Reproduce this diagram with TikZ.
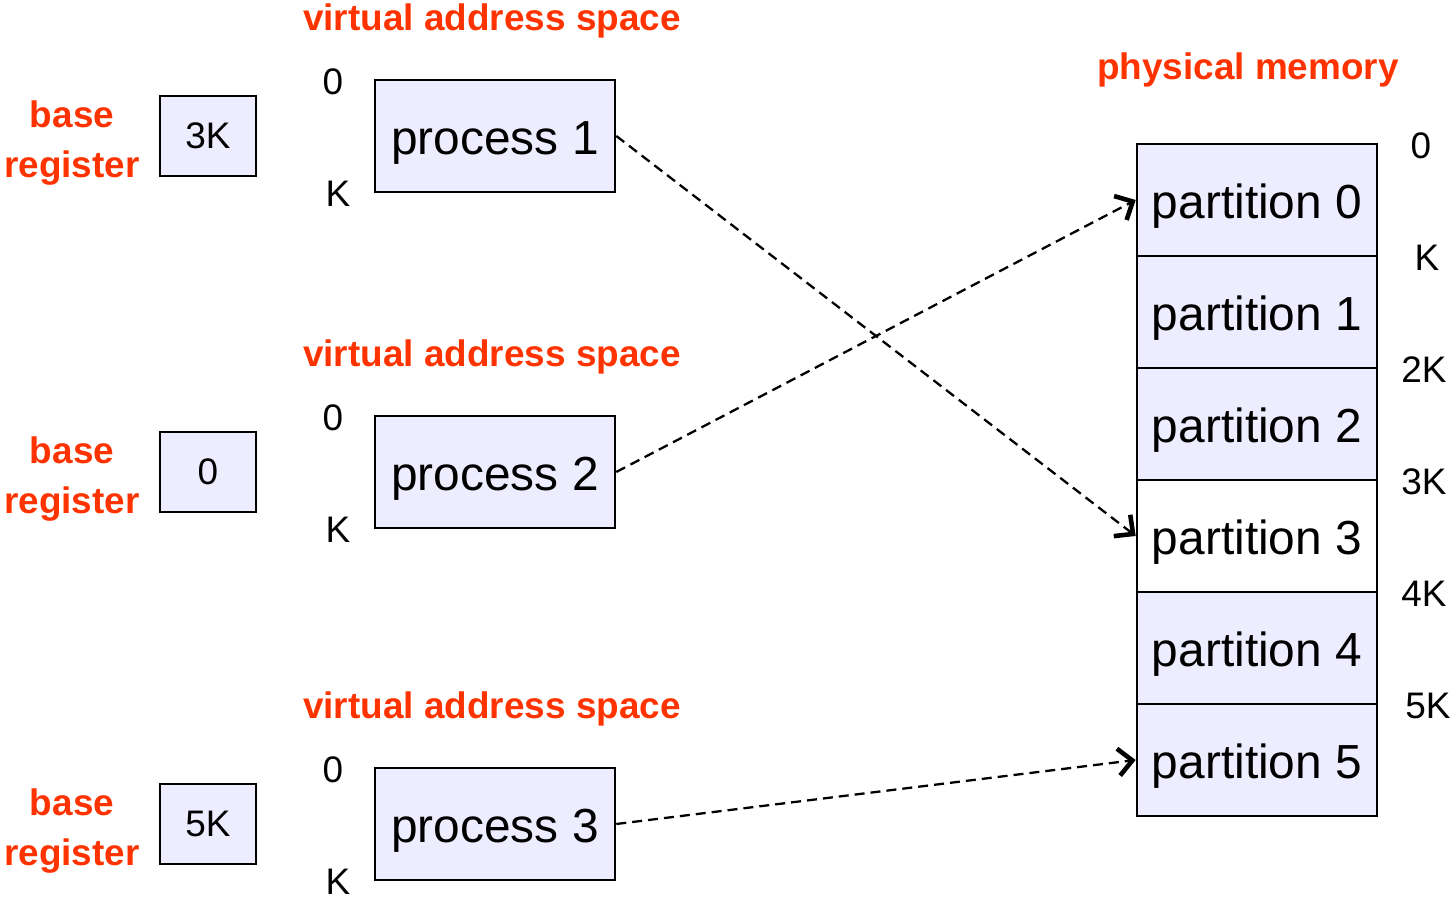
\documentclass[tikz,border=0pt]{standalone}
\usepackage{fontspec}
\setmainfont{Liberation Sans}
\usetikzlibrary{arrows.meta}
\definecolor{labelred}{RGB}{255,51,0}
\definecolor{boxfill}{RGB}{237,237,255}
\tikzset{>={Straight Barb[length=1.4mm,width=2.7mm,line width=1.3pt]}}

\begin{document}
\begin{tikzpicture}[x=0.01cm,y=-0.01cm,
  title/.style={text=labelred,font=\fontsize{10.5}{14.2}\selectfont\bfseries,align=center},
  regbox/.style={draw,fill=boxfill,line width=0.7pt,minimum width=0.96cm,minimum height=0.8cm,inner sep=0pt,font=\fontsize{10.5}{12}\selectfont},
  procbox/.style={draw,fill=boxfill,line width=0.7pt,minimum width=2.4cm,minimum height=1.12cm,inner sep=0pt,text height=1.03em,text depth=0pt,font=\fontsize{13.6}{15}\selectfont},
  addr/.style={font=\fontsize{10.5}{12}\selectfont,inner sep=0pt},
  mapping/.style={->,dash pattern=on 1mm off 0.6mm,line width=0.65pt}]
  \useasboundingbox (0,0) rectangle (1456,898);

  % virtual side
  \node[title] (vas1) at (492,21) {virtual address space};
  \node[title] (vas2) at (492,357) {virtual address space};
  \node[title] (vas3) at (492,709) {virtual address space};

  \node[title] (base1) at (72,143) {base\\register};
  \node[title] (base2) at (72,479) {base\\register};
  \node[title] (base3) at (72,831) {base\\register};

  \node[regbox] (reg1) at (208,136) {3K};
  \node[regbox] (reg2) at (208,472) {0};
  \node[regbox] (reg3) at (208,824) {5K};

  \node[procbox] (proc1) at (495,136) {process 1};
  \node[procbox] (proc2) at (495,472) {process 2};
  \node[procbox] (proc3) at (495,824) {process 3};

  \node[addr] (lo1) at (333,82) {0};
  \node[addr] (hi1) at (338,194) {K};
  \node[addr] (lo2) at (333,418) {0};
  \node[addr] (hi2) at (338,530) {K};
  \node[addr] (lo3) at (333,770) {0};
  \node[addr] (hi3) at (338,882) {K};

  % physical side
  \node[title] (phys) at (1248,70) {physical memory};

  \node[procbox] (part0) at (1257,200) {partition 0};
  \node[procbox] (part1) at (1257,312) {partition 1};
  \node[procbox] (part2) at (1257,424) {partition 2};
  \node[procbox,fill=white] (part3) at (1257,536) {partition 3};
  \node[procbox] (part4) at (1257,648) {partition 4};
  \node[procbox] (part5) at (1257,760) {partition 5};

  \node[addr] (m0) at (1421,146) {0};
  \node[addr] (m1) at (1427,258) {K};
  \node[addr] (m2) at (1424,370) {2K};
  \node[addr] (m3) at (1424,482) {3K};
  \node[addr] (m4) at (1424,594) {4K};
  \node[addr] (m5) at (1428,706) {5K};

  \draw[mapping] (proc1.east) -- (part3.west);
  \draw[mapping] (proc2.east) -- (part0.west);
  \draw[mapping] (proc3.east) -- (part5.west);

\end{tikzpicture}
\end{document}
